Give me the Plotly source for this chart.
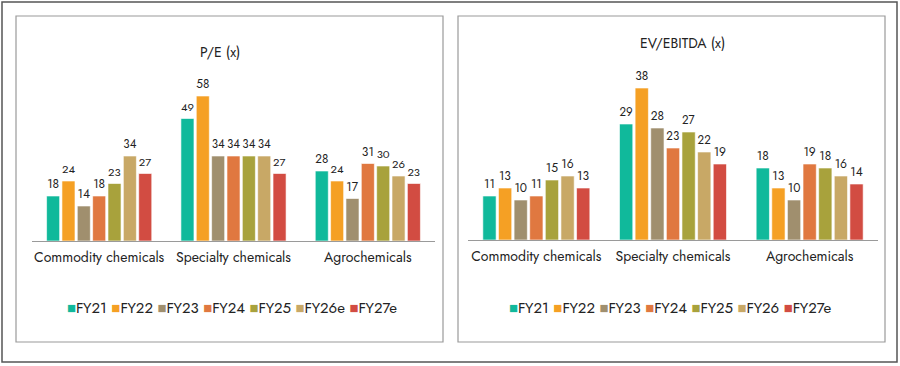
import plotly.graph_objects as go
from plotly.subplots import make_subplots

categories = ["Commodity chemicals", "Specialty chemicals", "Agrochemicals"]

pe_series = ["FY21", "FY22", "FY23", "FY24", "FY25", "FY26e", "FY27e"]
ev_series = ["FY21", "FY22", "FY23", "FY24", "FY25", "FY26", "FY27e"]

pe_fy21 = [18, 49, 28]
pe_fy22 = [24, 58, 24]
pe_fy23 = [14, 34, 17]
pe_fy24 = [18, 34, 31]
pe_fy25 = [23, 34, 30]
pe_fy26e = [34, 34, 26]
pe_fy27e = [27, 27, 23]

ev_fy21 = [11, 29, 18]
ev_fy22 = [13, 38, 13]
ev_fy23 = [10, 28, 10]
ev_fy24 = [11, 23, 19]
ev_fy25 = [15, 27, 18]
ev_fy26 = [16, 22, 16]
ev_fy27e = [13, 19, 14]

colors = ["#10B99B", "#F5A024", "#A08F6E", "#E07840", "#A8A23C", "#C8A866", "#D24C42"]

pe_values = [pe_fy21, pe_fy22, pe_fy23, pe_fy24, pe_fy25, pe_fy26e, pe_fy27e]
ev_values = [ev_fy21, ev_fy22, ev_fy23, ev_fy24, ev_fy25, ev_fy26, ev_fy27e]

FONT = "Jost, Lato, 'Open Sans', sans-serif"
TXT = "#222222"

fig = make_subplots(rows=1, cols=2)

for name, vals, col in zip(pe_series, pe_values, colors):
    fig.add_trace(go.Bar(x=categories, y=vals, name=name, marker_color=col,
                         marker_line=dict(color="rgba(255,255,255,0.6)", width=1),
                         text=vals, textposition="outside", cliponaxis=False,
                         textfont=dict(size=12, color=TXT, family=FONT),
                         showlegend=False), row=1, col=1)
for name, vals, col in zip(ev_series, ev_values, colors):
    fig.add_trace(go.Bar(x=categories, y=vals, name=name, marker_color=col,
                         marker_line=dict(color="rgba(255,255,255,0.6)", width=1),
                         text=vals, textposition="outside", cliponaxis=False,
                         textfont=dict(size=12, color=TXT, family=FONT),
                         showlegend=False), row=1, col=2)

W, H = 900, 366
def px(x):
    return x / W
def py(y):
    return 1 - y / H

fig.update_layout(
    width=W, height=H, margin=dict(l=0, r=0, t=0, b=0),
    paper_bgcolor="white", plot_bgcolor="white",
    barmode="group", bargap=0.2, bargroupgap=0.15,
    font=dict(family=FONT, color=TXT, size=12),
    uniformtext=dict(mode=False),
)

fig.update_xaxes(showgrid=False, showline=True, linecolor="#9a9a9a", linewidth=1,
                 ticks="", ticklabelstandoff=3,
                 tickfont=dict(size=14, family=FONT, color=TXT), fixedrange=True)
fig.update_yaxes(visible=False, showgrid=False, zeroline=False, fixedrange=True)

fig.update_layout(
    xaxis=dict(domain=[px(32), px(435)]),
    yaxis=dict(domain=[py(241), py(66)], range=[0, 70]),
    xaxis2=dict(domain=[px(468), px(878)]),
    yaxis2=dict(domain=[py(240), py(60)], range=[0, 45]),
)

shapes = [
    dict(type="rect", xref="paper", yref="paper", x0=px(2), x1=px(897), y0=py(362), y1=py(2),
         line=dict(color="#555555", width=1.5)),
    dict(type="rect", xref="paper", yref="paper", x0=px(16), x1=px(443), y0=py(342), y1=py(16),
         line=dict(color="#9a9a9a", width=1.2)),
    dict(type="rect", xref="paper", yref="paper", x0=px(458), x1=px(885), y0=py(342), y1=py(16),
         line=dict(color="#9a9a9a", width=1.2)),
]
fig.update_layout(shapes=shapes)

def legend_text(names):
    parts = []
    for n, c in zip(names, colors):
        parts.append(f"<span style='color:{c}'>■</span>{n}")
    return " ".join(parts)

annotations = [
    dict(text="P/E (x)", x=px(220), y=py(52), xref="paper", yref="paper", showarrow=False,
         font=dict(size=14, family=FONT, color=TXT), xanchor="center", yanchor="middle"),
    dict(text="EV/EBITDA (x)", x=px(682), y=py(43), xref="paper", yref="paper", showarrow=False,
         font=dict(size=14, family=FONT, color=TXT), xanchor="center", yanchor="middle"),
    dict(text=legend_text(pe_series), x=px(232), y=py(308), xref="paper", yref="paper",
         showarrow=False, font=dict(size=15, family=FONT, color=TXT), xanchor="center", yanchor="middle"),
    dict(text=legend_text(ev_series), x=px(670), y=py(308), xref="paper", yref="paper",
         showarrow=False, font=dict(size=15, family=FONT, color=TXT), xanchor="center", yanchor="middle"),
]
fig.update_layout(annotations=annotations)

fig.write_html("out.html", config={"displayModeBar": False},
               post_script="document.body.style.margin='0';document.body.style.overflow='hidden';")
